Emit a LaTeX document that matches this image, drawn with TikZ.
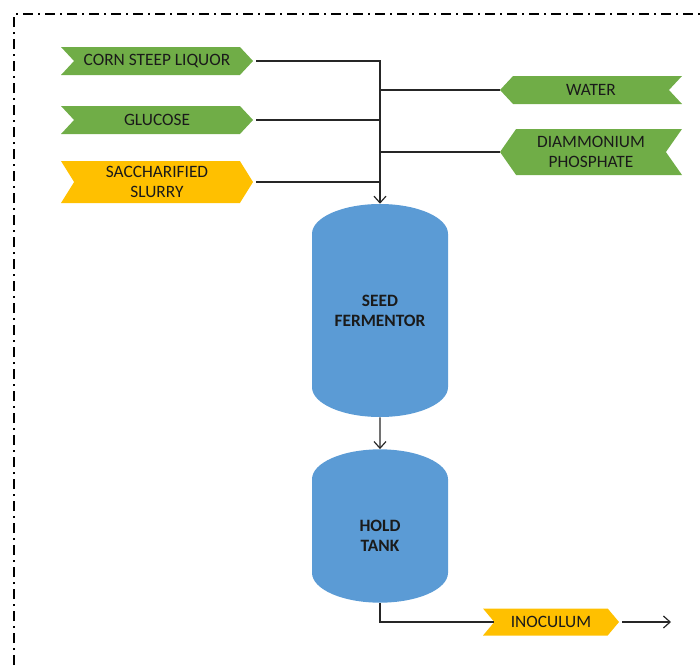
\documentclass[tikz,border=0pt]{standalone}
\usepackage{fontspec}
\setmainfont{Carlito}
\usetikzlibrary{arrows.meta,positioning,shapes.symbols,shapes.geometric}
\definecolor{ink}{HTML}{1A1A1A}
\definecolor{line}{HTML}{262626}
\definecolor{feed}{HTML}{70AD47}
\definecolor{slurry}{HTML}{FFC000}
\definecolor{vessel}{HTML}{5B9BD5}
\tikzset{
  >={Straight Barb[length=5pt,width=9pt]},
  every node/.style={font=\fontsize{13}{15}\selectfont,text=ink},
  instream/.style={shape=signal,signal to=east,signal from=west,fill=feed,minimum width=144pt,minimum height=21pt,align=center,inner sep=1pt,signal pointer angle=94},
  sidestream/.style={instream,signal to=west,signal from=east},
  yellowstream/.style={instream,fill=slurry},
  tank/.style={cylinder,shape border rotate=90,aspect=0.65,fill=vessel,minimum width=102pt,inner sep=0pt,text width=69pt,text height=18pt,text depth=9pt,anchor=shape center},
  tanktext/.style={align=center,inner sep=0pt,font=\fontsize{13}{15}\selectfont\bfseries},
  pipe/.style={draw=line,line width=0.9pt},
  flow/.style={pipe,->},
  frame/.style={draw=black,line width=1.1pt,dash pattern=on 7.5pt off 3.75pt on 1.5pt off 3.75pt},
}

\begin{document}
\begin{tikzpicture}[x=0.75pt,y=-0.75pt]
\useasboundingbox (0,0) rectangle (700,665);

% border of the section
\draw[frame] (14,665) -- (14,14) -- (700,14);

% feeds
\node[instream] (csl) at (157,61) {CORN STEEP LIQUOR};
\node[instream] (glu) at (157,120) {GLUCOSE};
\node[yellowstream,minimum height=31.5pt,signal pointer angle=116] (sac) at (157,182) {SACCHARIFIED\\SLURRY};
\node[sidestream,minimum width=136.5pt] (wat) at (591,90) {WATER};
\node[sidestream,minimum width=136.5pt,minimum height=34.5pt,signal pointer angle=110] (dap) at (591,152) {DIAMMONIUM\\PHOSPHATE};

% vessels
\node[tank,minimum height=159.75pt] (seed) at (380,310.5) {};
\node[tanktext] (seedname) at (seed.shape center) {SEED\\FERMENTOR};
\node[tank,minimum height=115pt] (hold) at (380,526) {};
\node[tanktext] (holdname) at ([yshift=-7pt]hold.shape center) {HOLD\\TANK};

% product
\node[yellowstream,minimum width=102pt,minimum height=20.25pt,signal pointer angle=100] (ino) at (551,622) {INOCULUM};
\coordinate (out) at (671,622);

% feed header
\draw[flow] ([xshift=2pt]csl.east) -| (seed.north);
\draw[pipe] ([xshift=2pt]glu.east) -- (glu.east -| seed.north);
\draw[pipe] ([xshift=2pt]sac.east) -- (sac.east -| seed.north);
\draw[pipe] (wat.west) -- (wat.west -| seed.north);
\draw[pipe] (dap.west) -- (dap.west -| seed.north);

\draw[flow] (seed.south) -- (hold.north);
\draw[pipe] (hold.south) |- (ino.west);
\draw[flow] ([xshift=2pt]ino.east) -- (out);

\end{tikzpicture}
\end{document}
